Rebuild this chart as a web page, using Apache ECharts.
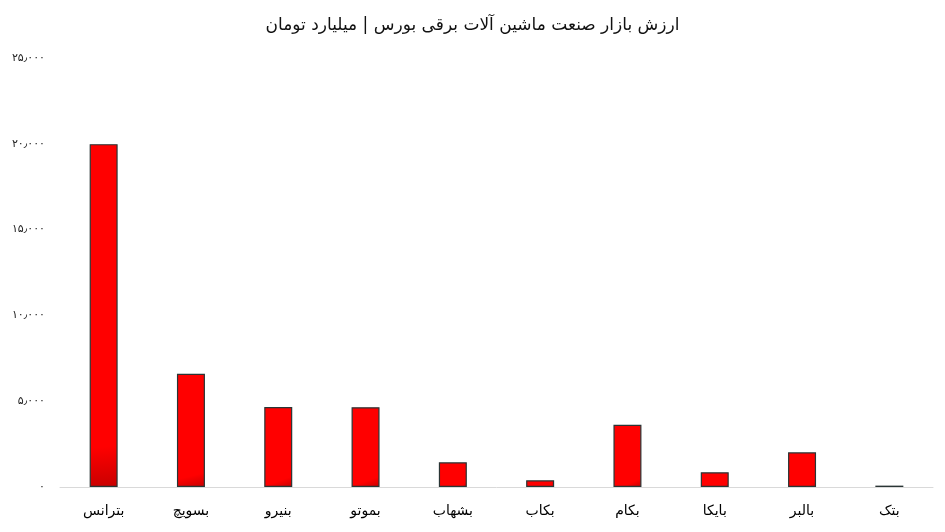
<!DOCTYPE html>
<html><head><meta charset="utf-8">
<script src="https://cdn.jsdelivr.net/npm/echarts@6/dist/echarts.min.js"></script>
<style>html,body{margin:0;padding:0;background:#fff}#c{width:945px;height:532px}</style>
</head><body><div id="c"></div>
<script>
const titleText = 'ارزش بازار صنعت ماشین آلات برقی بورس | میلیارد تومان';
const categories = ['بترانس','بسویچ','بنیرو','بموتو','بشهاب','بکاب','بکام','بایکا','بالبر','بتک'];
const values = [19980, 6600, 4660, 4650, 1440, 390, 3630, 860, 2020, 80];
const yTickLabels = ['۰','۵٫۰۰۰','۱۰٫۰۰۰','۱۵٫۰۰۰','۲۰٫۰۰۰','۲۵٫۰۰۰'];

const chart = echarts.init(document.getElementById('c'));
chart.setOption({
  animation: false,
  backgroundColor: '#fff',
  title: {
    text: titleText, left: 'center', top: 12,
    textStyle: {fontFamily: 'DejaVu Sans', fontSize: 17, fontWeight: 'normal', color: '#111'}
  },
  grid: {left: 60, right: 12, top: 58, bottom: 45, containLabel: false},
  xAxis: {
    type: 'category', data: categories,
    axisLine: {lineStyle: {color: '#d9d9d9', width: 1}},
    axisTick: {show: false},
    axisLabel: {fontFamily: 'DejaVu Sans', fontSize: 14, color: '#000', margin: 17}
  },
  yAxis: {
    type: 'value', min: 0, max: 25000, interval: 5000,
    splitLine: {show: false},
    axisLine: {show: false}, axisTick: {show: false},
    axisLabel: {
      fontFamily: 'DejaVu Sans', fontSize: 11, color: '#222', margin: 15,
      formatter: v => yTickLabels[Math.round(v / 5000)]
    }
  },
  series: [{
    type: 'bar', data: values, barWidth: 28,
    itemStyle: {
      color: new echarts.graphic.LinearGradient(0, 0, 1, 1, [
        {offset: 0, color: '#ff0000'},
        {offset: 0.88, color: '#ff0000'},
        {offset: 1, color: '#c80000'}
      ]),
      borderColor: '#2a3535', borderWidth: 1.2
    }
  }]
});
</script></body></html>
